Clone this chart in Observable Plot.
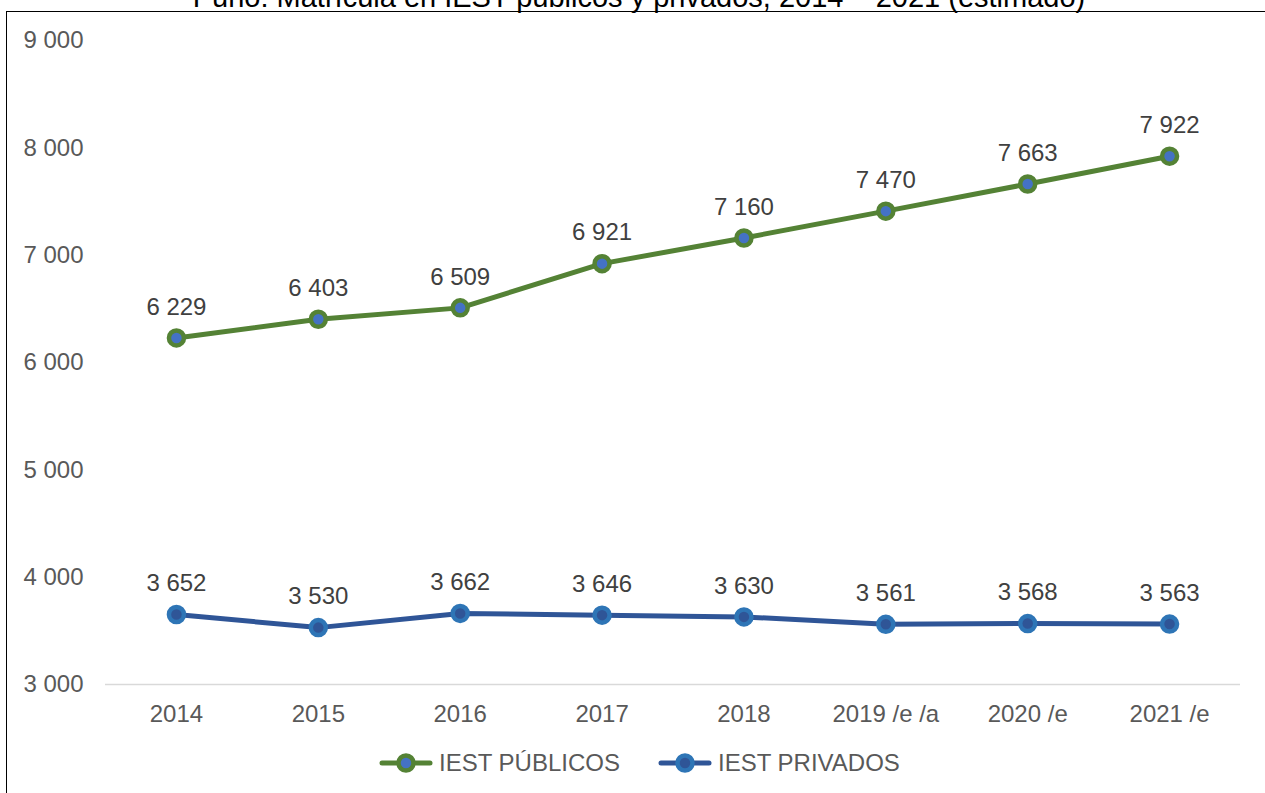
<!DOCTYPE html>
<html>
<head>
<meta charset="utf-8">
<script src="https://cdn.jsdelivr.net/npm/d3@7"></script>
<script src="https://cdn.jsdelivr.net/npm/@observablehq/plot@0.6"></script>
<style>
  html, body { margin: 0; padding: 0; background: #fff; overflow: hidden; }
  body { width: 1265px; height: 793px; position: relative; font-family: "Liberation Sans", Arial, sans-serif; }
  #frame { position: absolute; left: 6px; top: 11px; width: 1400px; height: 900px; border: 1.5px solid #000; box-sizing: border-box; pointer-events: none; }
  #title { position: absolute; top: -17px; left: 0; width: 1278px; text-align: center; font-size: 29px; line-height: 29px; color: #000; white-space: nowrap; }
  #chart { position: absolute; left: 0; top: 0; }
  #legend { position: absolute; top: 751px; left: 0; width: 1265px; height: 24px; font-size: 24px; color: #595959; }
  .item { position: absolute; top: 0; display: flex; align-items: center; height: 24px; line-height: 24px; }
  .item svg { margin-right: 6px; }
</style>
</head>
<body>
<div id="title">Puno: Matrícula en IEST públicos y privados, 2014 – 2021 (estimado)</div>
<div id="frame"></div>
<div id="chart"></div>
<div id="legend"></div>
<script>
const years = ["2014", "2015", "2016", "2017", "2018", "2019 /e /a", "2020 /e", "2021 /e"];
const publicos = [6229, 6403, 6509, 6921, 7160, 7410, 7663, 7922];
const publicosLabels = ["6 229", "6 403", "6 509", "6 921", "7 160", "7 470", "7 663", "7 922"];
const privados = [3652, 3530, 3662, 3646, 3630, 3561, 3568, 3563];
const privadosLabels = ["3 652", "3 530", "3 662", "3 646", "3 630", "3 561", "3 568", "3 563"];
const yTicks = [3000, 4000, 5000, 6000, 7000, 8000, 9000];
const seriesNames = ["IEST PÚBLICOS", "IEST PRIVADOS"];

const fmt = d => d3.format(",")(d).replace(/,/g, " ");

const pub = years.map((y, i) => ({year: y, value: publicos[i], label: publicosLabels[i]}));
const priv = years.map((y, i) => ({year: y, value: privados[i], label: privadosLabels[i]}));

const green = "#548235", greenInner = "#4472C4";
const blueLine = "#2F5597", blueOuter = "#2E75B6", blueInner = "#2F5597";

const chart = Plot.plot({
  width: 1265,
  height: 735,
  marginLeft: 105,
  marginRight: 25,
  marginTop: 40,
  marginBottom: 51,
  style: {fontFamily: "'Liberation Sans', Arial, sans-serif", background: "transparent"},
  x: {type: "point", domain: years, padding: 0.5, round: false},
  y: {domain: [3000, 9000]},
  marks: [
    Plot.axisY({ticks: yTicks, tickFormat: fmt, tickSize: 0, tickPadding: 22, label: null, fontSize: 24, fill: "#595959"}),
    Plot.axisX({tickSize: 0, tickPadding: 20, label: null, fontSize: 24, fill: "#595959"}),
    Plot.ruleY([3000], {stroke: "#D9D9D9", strokeWidth: 1.5}),
    Plot.line(pub, {x: "year", y: "value", stroke: green, strokeWidth: 5, strokeLinecap: "round"}),
    Plot.line(priv, {x: "year", y: "value", stroke: blueLine, strokeWidth: 5, strokeLinecap: "round"}),
    Plot.dot(pub, {x: "year", y: "value", r: 7.5, fill: greenInner, stroke: green, strokeWidth: 4.5}),
    Plot.dot(priv, {x: "year", y: "value", r: 7.5, fill: blueInner, stroke: blueOuter, strokeWidth: 4.5}),
    Plot.text(pub, {x: "year", y: "value", text: "label", dy: -31, fontSize: 24, fill: "#404040"}),
    Plot.text(priv, {x: "year", y: "value", text: "label", dy: -31, fontSize: 24, fill: "#404040"})
  ]
});
document.getElementById("chart").appendChild(chart);

const legend = document.getElementById("legend");
const swatches = [
  {name: seriesNames[0], line: green, outer: green, inner: greenInner, left: 379},
  {name: seriesNames[1], line: blueLine, outer: blueOuter, inner: blueInner, left: 658}
];
swatches.forEach(s => {
  const item = document.createElement("div");
  item.className = "item";
  item.style.left = s.left + "px";
  item.innerHTML = `<svg width="54" height="24"><line x1="3" y1="12" x2="51" y2="12" stroke="${s.line}" stroke-width="5" stroke-linecap="round"/><circle cx="27" cy="12" r="7.5" fill="${s.inner}" stroke="${s.outer}" stroke-width="4.5"/></svg><span>${s.name}</span>`;
  legend.appendChild(item);
});
</script>
</body>
</html>
